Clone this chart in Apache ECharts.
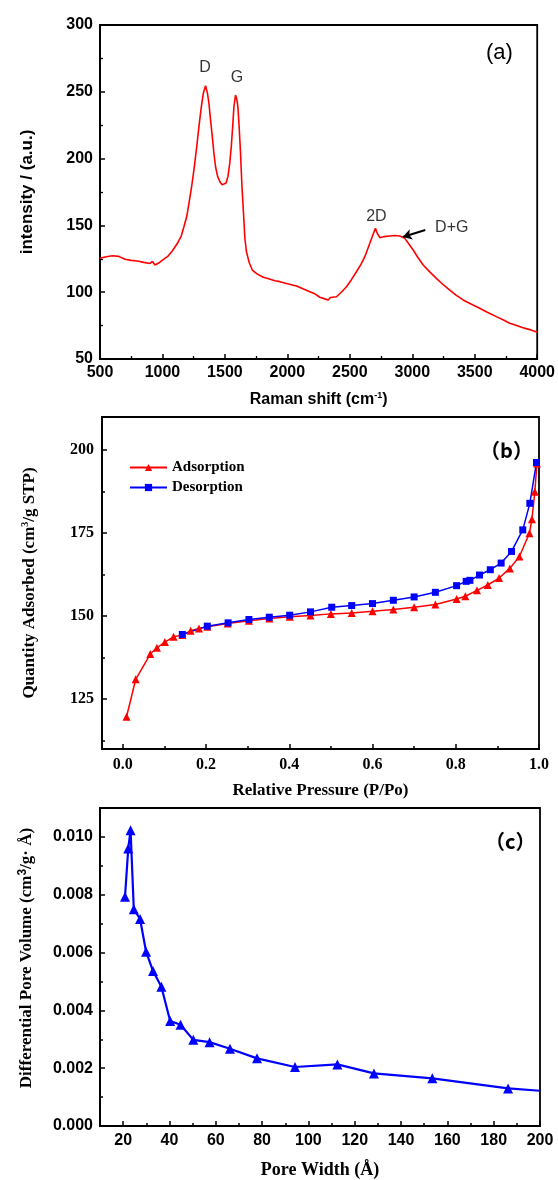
<!DOCTYPE html>
<html><head><meta charset="utf-8">
<script src="https://cdn.jsdelivr.net/npm/echarts@6/dist/echarts.min.js"></script>
<style>html,body{margin:0;padding:0;background:#fff}#c{width:558px;height:1180px}</style>
</head><body><div id="c"></div>
<script>
// (a) Raman spectrum
const ramanShift = [500,550,600,650,700,750,800,850,900,920,940,970,1000,1040,1080,1120,1150,1172,1195,1212,1232,1252,1272,1292,1310,1327,1345,1360,1372,1385,1399,1412,1425,1442,1460,1476,1492,1508,1524,1538,1551,1562,1572,1585,1596,1604,1615,1625,1636,1647,1660,1673,1695,1719,1760,1807,1850,1900,1940,2000,2073,2120,2180,2220,2260,2300,2327,2345,2360,2393,2430,2473,2510,2553,2590,2620,2660,2685,2705,2720,2740,2760,2790,2820,2860,2900,2940,2970,3007,3045,3087,3140,3193,3250,3300,3350,3407,3470,3540,3600,3673,3730,3780,3830,3880,3940,4000];
const ramanIntensity = [125.4,126.5,127.3,126.8,124.6,123.8,123.3,122.3,121.5,123.0,120.4,121.8,124.0,126.6,131.0,136.6,142.0,149.0,157.0,166.5,178.0,191.5,207.0,223.9,238.0,248.9,254.6,249.0,241.4,229.0,216.4,204.0,193.9,186.5,182.7,180.5,179.7,181.5,186.5,196.0,208.9,224.0,238.8,247.6,244.0,238.8,222.0,204.0,180.0,162.0,140.0,130.0,122.0,116.6,113.5,111.2,110.0,108.6,107.9,106.3,104.6,102.8,100.4,98.8,96.2,95.0,94.2,96.0,95.2,96.6,99.8,104.1,109.0,115.3,121.0,126.6,136.6,143.0,147.8,144.0,140.8,141.3,141.8,142.1,142.4,142.1,140.3,136.5,131.6,126.0,120.4,115.2,110.4,105.4,101.6,97.8,94.2,91.2,88.0,85.0,81.7,79.2,76.7,75.2,73.6,72.0,70.0];

// (b) N2 isotherm
const adsPressure = [0.009,0.031,0.066,0.082,0.101,0.122,0.143,0.163,0.183,0.203,0.252,0.303,0.352,0.401,0.451,0.500,0.550,0.600,0.650,0.700,0.751,0.802,0.823,0.851,0.877,0.904,0.930,0.953,0.977,0.983,0.990,0.995];
const adsQuantity = [119.7,131.0,138.6,140.5,142.2,143.8,144.3,145.6,146.3,146.8,147.8,148.6,149.3,149.8,150.2,150.7,151.0,151.5,152.0,152.7,153.5,155.2,156.0,157.8,159.4,161.5,164.4,168.0,175.0,179.2,187.5,196.0];
const desPressure = [0.143,0.203,0.253,0.303,0.352,0.401,0.451,0.502,0.550,0.600,0.650,0.700,0.751,0.802,0.825,0.834,0.857,0.883,0.909,0.934,0.961,0.978,0.994];
const desQuantity = [144.5,147.0,148.0,149.0,149.7,150.3,151.3,152.7,153.2,153.8,154.8,155.8,157.2,159.2,160.5,160.8,162.4,164.0,166.0,169.5,176.0,184.0,196.3];
const pressureTicks = [0,0.2,0.4,0.6,0.8,1.0];
const pressureMinorTicks = [0.1,0.3,0.5,0.7,0.9];
const quantityTicks = [125,150,175,200];
const quantityMinorTicks = [112.5,137.5,162.5,187.5];

// (c) pore size distribution
const poreWidth = [20.8,22.2,23.2,24.6,27.3,29.9,32.9,36.5,40.3,44.8,50.3,57.3,66.1,77.8,94.2,112.5,128.3,153.5,186.2,200];
const poreVolume = [0.00793,0.0096,0.01023,0.0075,0.00716,0.00603,0.00536,0.00482,0.00363,0.0035,0.00298,0.0029,0.00267,0.00234,0.00204,0.00213,0.00182,0.00165,0.0013,0.00122];
const widthTicks = [20,40,60,80,100,120,140,160,180,200];
const widthMinorTicks = [30,50,70,90,110,130,150,170,190];
const volumeTicks = [0,0.002,0.004,0.006,0.008,0.010];
const volumeMinorTicks = [0.001,0.003,0.005,0.007,0.009];

// peak annotations
const peakNames = ['D','G','2D','D+G'];
const peakX = [1340,1596,2713,3316];
const peakY = [267.8,261,156.3,148];

const SANS = '"Liberation Sans", Arial, sans-serif';
const SERIF = '"Liberation Serif", "Times New Roman", serif';
const BLK = '#000';

function zip(a,b){return a.map((v,i)=>[v,b[i]]);}

const chart = echarts.init(document.getElementById('c'), null, {renderer:'canvas'});

const lineAx = {show:true, onZero:false, lineStyle:{color:BLK, width:1.8}};
const noLine = {show:false, onZero:false};
const tickIn = (len)=>({show:true, inside:true, length:len, lineStyle:{color:BLK, width:1.5}});

const poreData = zip(poreWidth, poreVolume).map((p,i,arr)=> i===arr.length-1 ? {value:p, symbol:'none'} : p);

const option = {
  animation:false,
  backgroundColor:'#fff',
  grid:[
    {left:100, width:438, top:25, height:334, show:true, borderColor:BLK, borderWidth:1.8, containLabel:false},
    {left:102, width:437, top:417, height:332, show:true, borderColor:BLK, borderWidth:1.8, containLabel:false},
    {left:100, width:440, top:808, height:320, show:true, borderColor:BLK, borderWidth:1.8, containLabel:false}
  ],
  xAxis:[
    {type:'value', gridIndex:0, position:'bottom', min:500, max:4000, interval:500,
     axisLine:lineAx, axisTick:tickIn(5), minorTick:{show:true, splitNumber:2, length:3, lineStyle:{color:BLK,width:1.3}},
     splitLine:{show:false}, minorSplitLine:{show:false},
     axisLabel:{formatter:(v)=>String(v), color:BLK, fontFamily:SANS, fontWeight:'bold', fontSize:16, margin:6},
     name:'{t|Raman shift (cm}{s|-1}{t|)}', nameLocation:'middle', nameGap:32,
     nameTextStyle:{color:BLK, rich:{t:{fontFamily:SANS, fontWeight:'bold', fontSize:16, lineHeight:18, color:BLK}, s:{fontFamily:SANS, fontWeight:'bold', fontSize:9, verticalAlign:'top', color:BLK}}}},
    {type:'value', gridIndex:1, position:'bottom', min:-0.05, max:1.0,
     axisLine:lineAx, axisTick:Object.assign(tickIn(5),{customValues:pressureTicks}),
     splitLine:{show:false},
     axisLabel:{customValues:pressureTicks, formatter:(v)=>v.toFixed(1), color:BLK, fontFamily:SERIF, fontWeight:'bold', fontSize:16, margin:8},
     name:'Relative Pressure (P/Po)', nameLocation:'middle', nameGap:33,
     nameTextStyle:{color:BLK, fontFamily:SERIF, fontWeight:'bold', fontSize:17}},
    {type:'value', gridIndex:2, position:'bottom', min:10, max:200,
     axisLine:lineAx, axisTick:Object.assign(tickIn(5),{customValues:widthTicks}),
     splitLine:{show:false},
     axisLabel:{customValues:widthTicks, formatter:(v)=>String(v), color:BLK, fontFamily:SANS, fontWeight:'bold', fontSize:16, margin:7},
     name:'Pore Width (Å)', nameLocation:'middle', nameGap:35,
     nameTextStyle:{color:BLK, fontFamily:SERIF, fontWeight:'bold', fontSize:18}},
    {type:'value', gridIndex:1, position:'bottom', min:-0.05, max:1.0,
     axisLine:noLine, axisTick:Object.assign(tickIn(3),{customValues:pressureMinorTicks}),
     axisLabel:{show:false}, splitLine:{show:false}},
    {type:'value', gridIndex:2, position:'bottom', min:10, max:200,
     axisLine:noLine, axisTick:Object.assign(tickIn(3),{customValues:widthMinorTicks}),
     axisLabel:{show:false}, splitLine:{show:false}}
  ],
  yAxis:[
    {type:'value', gridIndex:0, position:'left', min:50, max:300, interval:50,
     axisLine:lineAx, axisTick:tickIn(5), minorTick:{show:true, splitNumber:2, length:3, lineStyle:{color:BLK,width:1.3}},
     splitLine:{show:false}, minorSplitLine:{show:false},
     axisLabel:{formatter:(v)=>String(v), color:BLK, fontFamily:SANS, fontWeight:'bold', fontSize:16, margin:7},
     name:'intensity / (a.u.)', nameLocation:'middle', nameGap:64, nameRotate:90,
     nameTextStyle:{color:BLK, fontFamily:SANS, fontWeight:'bold', fontSize:17}},
    {type:'value', gridIndex:1, position:'left', min:110, max:210,
     axisLine:lineAx, axisTick:Object.assign(tickIn(5),{customValues:quantityTicks}),
     splitLine:{show:false},
     axisLabel:{customValues:quantityTicks, color:BLK, fontFamily:SERIF, fontWeight:'bold', fontSize:16, margin:8},
     name:'{t|Quantity Adsorbed (cm}{s|3}{t|/g STP)}', nameLocation:'middle', nameGap:63, nameRotate:90,
     nameTextStyle:{color:BLK, rich:{t:{fontFamily:SERIF, fontWeight:'bold', fontSize:17, lineHeight:19, color:BLK}, s:{fontFamily:SERIF, fontWeight:'bold', fontSize:10, verticalAlign:'top', color:BLK}}}},
    {type:'value', gridIndex:2, position:'left', min:0, max:0.011,
     axisLine:lineAx, axisTick:Object.assign(tickIn(5),{customValues:volumeTicks}),
     splitLine:{show:false},
     axisLabel:{customValues:volumeTicks, formatter:(v)=>v.toFixed(3), color:BLK, fontFamily:SANS, fontWeight:'bold', fontSize:16, margin:7},
     name:'{t|Differential Pore Volume (cm}{s|3}{t|/g· Å)}', nameLocation:'middle', nameGap:63, nameRotate:90,
     nameTextStyle:{color:BLK, padding:[0,0,0,18], rich:{t:{fontFamily:SERIF, fontWeight:'bold', fontSize:17, lineHeight:20, color:BLK}, s:{fontFamily:SANS, fontWeight:'bold', fontSize:12, verticalAlign:'top', color:BLK}}}},
    {type:'value', gridIndex:1, position:'left', min:110, max:210,
     axisLine:noLine, axisTick:Object.assign(tickIn(3),{customValues:quantityMinorTicks}),
     axisLabel:{show:false}, splitLine:{show:false}},
    {type:'value', gridIndex:2, position:'left', min:0, max:0.011,
     axisLine:noLine, axisTick:Object.assign(tickIn(3),{customValues:volumeMinorTicks}),
     axisLabel:{show:false}, splitLine:{show:false}}
  ],
  legend:{
    left:124, top:455, orient:'vertical', itemGap:5, itemWidth:37, itemHeight:9,
    data:['Adsorption','Desorption'],
    textStyle:{color:BLK, fontFamily:SERIF, fontWeight:'bold', fontSize:15}
  },
  series:[
    {name:'Raman', type:'line', xAxisIndex:0, yAxisIndex:0, data:zip(ramanShift, ramanIntensity),
     showSymbol:false, symbol:'none', lineStyle:{color:'#ff0000', width:1.6}, itemStyle:{color:'#ff0000'},
     markLine:{silent:true, symbol:['none','arrow'], symbolSize:[8,9], label:{show:false},
       lineStyle:{color:BLK, width:2, type:'solid'},
       data:[[{coord:[3104,146.6]},{coord:[2924,141.3]}]]}},
    {name:'peaks', type:'scatter', xAxisIndex:0, yAxisIndex:0, symbolSize:0,
     data:peakNames.map((n,i)=>({value:[peakX[i],peakY[i]], name:n})),
     label:{show:true, position:'inside', formatter:(p)=>p.name, color:BLK, fontFamily:SANS, fontSize:16}},
    {name:'Adsorption', type:'line', xAxisIndex:1, yAxisIndex:1, data:zip(adsPressure, adsQuantity),
     symbol:'triangle', symbolSize:8, lineStyle:{color:'#ff0000', width:1.5}, itemStyle:{color:'#ff0000'}},
    {name:'Desorption', type:'line', xAxisIndex:1, yAxisIndex:1, data:zip(desPressure, desQuantity),
     symbol:'rect', symbolSize:7, lineStyle:{color:'#0000ff', width:1.5}, itemStyle:{color:'#0000ff'}},
    {name:'Pore', type:'line', xAxisIndex:2, yAxisIndex:2, data:poreData,
     symbol:'triangle', symbolSize:10, lineStyle:{color:'#0000ff', width:2.2}, itemStyle:{color:'#0000ff'}}
  ],
  graphic:[
    {type:'text', left:486, top:42, style:{text:'(a)', font:'22px '+SANS, fill:BLK}},
    {type:'text', left:480, top:440, style:{text:'（b）', font:'bold 20px "Noto Sans CJK SC", '+SANS, fill:BLK}},
    {type:'text', left:485, top:831, style:{text:'（c）', font:'bold 20px "Noto Sans CJK SC", '+SANS, fill:BLK}}
  ]
};
chart.setOption(option);
</script></body></html>
